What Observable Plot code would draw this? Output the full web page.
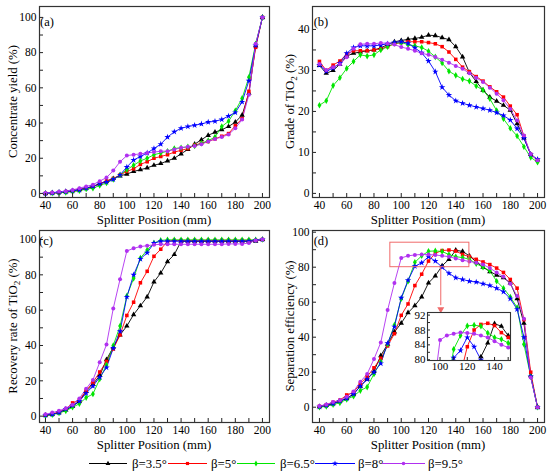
<!DOCTYPE html>
<html><head><meta charset="utf-8">
<script src="https://cdn.jsdelivr.net/npm/d3@7"></script>
<script src="https://cdn.jsdelivr.net/npm/@observablehq/plot@0.6"></script>
<style>
html,body{margin:0;padding:0;background:#fff;}
#root{position:relative;width:550px;height:476px;overflow:hidden;font-family:"Liberation Serif","Times New Roman",serif;}
#root > div{position:absolute;}
#root svg, #root svg text, #root svg g {font-family:"Liberation Serif","Times New Roman",serif !important;}
</style></head><body><div id="root"></div>
<script>
// ---------- data ----------
const xPos = [40,45,50,55,60,65,70,75,80,85,90,95,100,105,110,115,120,125,130,135,140,145,150,155,160,165,170,175,180,185,190,195,200];
const seriesNames = ["β=3.5°","β=5°","β=6.5°","β=8°","β=9.5°"];
const seriesColors = ["#000000","#ff0000","#00e600","#0000ff","#b030f0"];
const seriesSymbols = ["triangle","square","diamond","star","circle"];
const xTicks = [40,60,80,100,120,140,160,180,200];
const xMinorTicks = [50,70,90,110,130,150,170,190];

// (a) Concentrate yield (%)
const yield35 = [0,0.3,0.6,1,1.5,2.2,3,4,5.5,7,8.5,10,11,12.5,13.5,14.5,16,17,18.5,20,22.5,25,28,30.5,33,34.8,36.2,38,40.5,44.5,57,84,100];
const yield5  = [0,0.3,0.6,1,1.5,2.2,3,4,5.5,7,8.5,10.5,12.5,14,16.5,18,20,21,22,23.5,24.5,25.5,27.5,28.5,29.5,31,32.5,34,38.5,42.5,58,83,100];
const yield65 = [0,0.2,0.4,0.6,1,1.5,2.5,3,4.5,6,8,10.5,13.5,16,18.5,20,22,23,24,25.5,26,26.5,27,28.5,30,32,38,41,47,54,66,85,100];
const yield8  = [0,0.3,0.6,1,1.5,2,3,4,5.5,6.5,8,10.5,15,19,21,23,25.5,28,32,35,37,38,38.7,39.5,40.5,41,42,44,46,52,64,84,100];
const yield95 = [0.2,0.5,0.9,1.3,2,3,4,5,7,9,13,18,21.5,22,22.5,23,23.5,24,24,25,26,26.5,27,28,29.5,31,32,33.5,37,42,56,85,100];

// (b) Grade of TiO2 (%)
const grade35 = [31.2,29.3,30,31.5,33.5,34.2,34.5,34.8,35,35.5,36.3,37,37.3,37.6,37.8,38.1,38.6,38.5,38,37.5,35.8,33.3,29.5,27.3,25.2,23.5,22.5,21.5,20.3,17,13.5,9.5,8.2];
const grade5  = [32.2,30,31.3,32.3,34,34.8,34.8,34.8,35,35.3,35.8,36.5,36.8,37,37,37,36.8,36.5,35.8,34.5,32.7,30.8,29.7,28.5,27.4,26,24.8,23.5,21.3,19.2,14,9.5,8.1];
const grade65 = [21.5,22.6,26.3,28.2,30.5,32.2,33.8,33.5,33.8,35,35.8,36.6,36.8,36.3,36,35.6,34.7,33.3,31.8,29.8,28.8,27.9,27.4,26.2,25.2,23.1,20.2,18.2,15.9,14,11.4,8.8,7.6];
const grade8  = [31.3,29.8,30.6,31.8,34.2,35.6,36,36,36,36.2,36.5,36.8,37,36.6,35.5,34.3,32.3,29.7,25.9,24,22.6,22,21.5,21.1,20.7,20.3,19.7,19,17.9,15.8,13.5,9.5,8.3];
const grade95 = [31.6,30.1,30.8,31.5,33.2,35.3,36.4,36.5,36.5,36.7,36.6,36.3,35.7,35.3,34.8,34.2,33.8,33.3,32.6,31.9,31.1,30.4,29.3,28.2,27.2,25.8,24.3,22.7,20.6,17.8,14.1,9.6,8.1];

// (c) Recovery rate of TiO2 (%)
const recovery35 = [0.5,1,2,3.5,5.5,8.5,14,18,23,32,39,46,51,57.5,62.5,67.5,76,81,87.5,91.5,99,99,99,99,99,99,99,99,99,99,99,99,100];
const recovery5  = [0.5,1.2,2.5,4,7.5,9,14.5,19,25,31,38,46,57,64.5,75.5,82,90.5,94.5,99,99.5,99.5,99.5,99.5,99.5,99.5,99.5,99.5,99.5,99.5,99.5,99.5,99.5,100];
const recovery65 = [0.3,0.8,1.8,3,5,7,10.5,12.5,21,29,40,51,68,78,89.5,94,98,99.5,99.8,99.8,99.8,99.8,99.8,99.8,99.8,99.8,99.8,99.8,99.8,99.8,99.8,99.8,100];
const recovery8  = [0.5,1,2,4,6,8.5,13,17,22,27.5,38.5,48,67.5,80,89,92.5,98,99,99,99,99,99,99,99,99,99,99,99,99,99,99,99.5,100];
const recovery95 = [1,2,3,4.5,6.5,10,15.5,20.5,30.5,40.5,61,77.5,93.5,95,96,96.5,97,97.3,97.3,97.3,97.3,97.3,97.3,97.3,97.3,97.3,97.3,97.5,97.5,97.5,98,99.5,100];

// (d) Separation efficiency (%)
const efficiency35 = [0.3,1,2,3.5,5,7.5,12,16,20.5,29.5,36,43,48,54,58,63,71,75,80.8,84.5,89.7,89,86.5,83,80,77.5,75.5,74,71,62,48,18,0];
const efficiency5  = [0.5,1.3,2.8,4,7,8.5,13.5,17.5,22.5,28,35,42,52.5,59,69.5,76,83.5,88,89.5,89.8,89.2,87.3,86,84.5,83,81.5,79.5,77,73,68,50,20,0];
const efficiency65 = [0,0.5,1.5,2.5,4.5,6.3,9.5,11.5,19,26,36,47,62,72,82.8,86.5,89.1,89.3,89,87.2,86,85.5,84.5,82,80,78,72,68,63,57,36,17.5,0];
const efficiency8  = [0.3,1,2,3.5,5,7.5,12,16,20,25,36.5,46,62.5,72.5,80.5,82.5,86,83.5,80,76.5,74,73,72,71.5,70.5,69.5,68,66,62,56,40,17.5,0];
const efficiency95 = [0.7,1.5,3,4,6,9,14.5,19,27.5,37,55.5,71,85.3,86.5,87,87.3,87.2,87,86.5,86,85,84,83.3,82.5,81.5,79.5,77,74.5,70.5,63.5,50.5,17,0];

// inset / zoom annotation
const zoomBoxX = [92, 150];
const zoomBoxY = [80, 94];
const arrowX = [129];
const arrowY = [80, 56];
const insetXTicks = [100,120,140];
const insetXMinor = [110,130,150];
const insetYTicks = [80,84,88,92];
const insetYMinor = [82,86,90];

// ---------- drawing ----------
const FONT = '"Liberation Serif","Times New Roman",serif';
const root = document.getElementById("root");

function makeRows(seriesValues) {
  const rows = [];
  seriesValues.forEach((vals, i) => vals.forEach((v, j) => rows.push({x: xPos[j], v, s: seriesNames[i]})));
  return rows;
}

function serifize(svg) {
  const s = d3.select(svg);
  s.attr("font-family", FONT).style("font-family", FONT);
  s.selectAll("g").attr("font-family", FONT);
  s.selectAll("text").attr("font-family", FONT).style("font-family", FONT).attr("font-weight", "normal");
}

function place(node, left, top) {
  serifize(node);
  const d = document.createElement("div");
  d.style.left = left + "px"; d.style.top = top + "px";
  d.appendChild(node);
  root.appendChild(d);
}

function panel(cfg) {
  const {values, xDomain, yDomain, yTicks, yMinor, ml, mr, mt, mb, w, h, tag, tagX, tagY, yTitle, yTitleX, extra = [], after = []} = cfg;
  const rows = makeRows(values);
  const fw = w - ml - mr, fh = h - mt - mb;
  const svg = Plot.plot({
    width: w, height: h, marginLeft: ml, marginRight: mr, marginTop: mt, marginBottom: mb,
    style: {fontSize: "11px", color: "#000", background: "none", overflow: "visible"},
    x: {domain: xDomain},
    y: {domain: yDomain},
    color: {domain: seriesNames, range: seriesColors},
    symbol: {domain: seriesNames, range: seriesSymbols},
    marks: [
      ...extra,
      Plot.line(rows, {x: "x", y: "v", z: "s", stroke: "s", strokeWidth: 0.9}),
      Plot.dot(rows, {x: "x", y: "v", symbol: "s", fill: "s", r: 2.0}),
      Plot.tickX(xTicks.concat(xMinorTicks), {x: d => d, insetTop: fh - 4, stroke: "#222"}),
      Plot.tickY(yTicks.concat(yMinor), {y: d => d, insetRight: fw - 4, stroke: "#222"}),
      Plot.axisX({ticks: xTicks, tickSize: 0, tickPadding: 3, label: null, fontSize: 11.5}),
      Plot.axisY({ticks: yTicks, tickSize: 0, tickPadding: 3, label: null, fontSize: 11.5}),
      Plot.frame({stroke: "#333", strokeWidth: 1.2}),
      ...after
    ]
  });
  const s = d3.select(svg);
  s.append("text").attr("x", ml + fw / 2).attr("y", h - 6).attr("text-anchor", "middle")
    .attr("font-size", 12.8).attr("fill", "#000").text("Splitter Position (mm)");
  const yt = s.append("text")
    .attr("transform", `translate(${yTitleX},${mt + fh / 2}) rotate(-90)`)
    .attr("text-anchor", "middle").attr("dy", "0.35em").attr("font-size", 12.8).attr("fill", "#000");
  yTitle.forEach(p => {
    const t = yt.append("tspan").text(p.t);
    if (p.sub) t.attr("font-size", 9).attr("dy", 3);
    if (p.after) t.attr("dy", -3);
  });
  s.append("text").attr("x", tagX).attr("y", tagY).attr("font-size", 12.5).attr("fill", "#000").text(tag);
  return svg;
}

place(panel({
  values: [yield35, yield5, yield65, yield8, yield95],
  xDomain: [35.6, 205.2], yDomain: [-2.3, 106.2],
  yTicks: [0,20,40,60,80,100], yMinor: [10,30,50,70,90],
  ml: 39, mr: 6, mt: 6, mb: 33, w: 275, h: 230,
  tag: "(a)", tagX: 47, tagY: 26,
  yTitle: [{t: "Concentrate yield (%)"}], yTitleX: 13
}), 0, 0);

place(panel({
  values: [grade35, grade5, grade65, grade8, grade95],
  xDomain: [34.9, 205.1], yDomain: [-1, 45.6],
  yTicks: [0,10,20,30,40], yMinor: [5,15,25,35],
  ml: 37, mr: 6, mt: 6, mb: 33, w: 275, h: 230,
  tag: "(b)", tagX: 46, tagY: 26,
  yTitle: [{t: "Grade of TiO"}, {t: "2", sub: true}, {t: " (%)", after: true}], yTitleX: 15
}), 275, 0);

place(panel({
  values: [recovery35, recovery5, recovery65, recovery8, recovery95],
  xDomain: [35.6, 205.2], yDomain: [-3.6, 105.1],
  yTicks: [0,20,40,60,80,100], yMinor: [10,30,50,70,90],
  ml: 39, mr: 6, mt: 5, mb: 33, w: 275, h: 230,
  tag: "(c)", tagX: 46, tagY: 20,
  yTitle: [{t: "Recovery rate of TiO"}, {t: "2", sub: true}, {t: " (%)", after: true}], yTitleX: 13
}), 0, 225);

const zoomColor = "#f06a6a";
place(panel({
  values: [efficiency35, efficiency5, efficiency65, efficiency8, efficiency95],
  xDomain: [34.9, 205.1], yDomain: [-8.74, 100.97],
  yTicks: [0,20,40,60,80,100], yMinor: [10,30,50,70,90],
  ml: 37, mr: 6, mt: 5, mb: 33, w: 275, h: 230,
  tag: "(d)", tagX: 46, tagY: 20,
  yTitle: [{t: "Separation efficiency (%)"}], yTitleX: 15,
  after: [
    Plot.rect([0], {x1: zoomBoxX[0], x2: zoomBoxX[1], y1: zoomBoxY[0], y2: zoomBoxY[1], fill: "none", stroke: zoomColor, strokeWidth: 1}),
    Plot.ruleX(arrowX, {x: d => d, y1: arrowY[0], y2: arrowY[1] + 2, stroke: zoomColor, strokeWidth: 1}),
    Plot.dot(arrowX, {x: d => d, y: arrowY[1], symbol: "triangle", rotate: 180, fill: zoomColor, r: 2.6})
  ]
}), 275, 225);

// inset
(function () {
  const rows = makeRows([efficiency35, efficiency5, efficiency65, efficiency8, efficiency95]);
  const w = 116, h = 70, ml = 27, mr = 6, mt = 8, mb = 14;
  const fw = w - ml - mr, fh = h - mt - mb;
  const svg = Plot.plot({
    width: w, height: h, marginLeft: ml, marginRight: mr, marginTop: mt, marginBottom: mb,
    style: {fontSize: "10.5px", color: "#000", background: "none", overflow: "visible"},
    x: {domain: [90.8, 151.7]},
    y: {domain: [79.8, 92.7]},
    color: {domain: seriesNames, range: seriesColors},
    symbol: {domain: seriesNames, range: seriesSymbols},
    marks: [
      Plot.frame({fill: "white", stroke: "none"}),
      Plot.line(rows, {x: "x", y: "v", z: "s", stroke: "s", strokeWidth: 0.9, clip: true}),
      Plot.dot(rows, {x: "x", y: "v", symbol: "s", fill: "s", r: 2.0, clip: true}),
      Plot.tickX(insetXTicks.concat(insetXMinor), {x: d => d, insetTop: fh - 3, stroke: "#222"}),
      Plot.tickY(insetYTicks.concat(insetYMinor), {y: d => d, insetRight: fw - 3, stroke: "#222"}),
      Plot.axisX({ticks: insetXTicks, tickSize: 0, tickPadding: 2, label: null, fontSize: 11}),
      Plot.axisY({ticks: insetYTicks, tickSize: 0, tickPadding: 2, label: null, fontSize: 11}),
      Plot.frame({stroke: "#333", strokeWidth: 1.1})
    ]
  });
  place(svg, 400, 304);
})();

// legend
(function () {
  const items = [
    {x1: 89, x2: 127, tx: 132},
    {x1: 168, x2: 207, tx: 211},
    {x1: 237, x2: 275, tx: 280},
    {x1: 315, x2: 355, tx: 358},
    {x1: 382, x2: 425, tx: 428}
  ];
  const symbolTypes = [d3.symbolTriangle, d3.symbolSquare, d3.symbolDiamond, d3.symbolStar, d3.symbolCircle];
  const svg = d3.create("svg").attr("width", 550).attr("height", 25);
  items.forEach((it, i) => {
    const g = svg.append("g");
    g.append("line").attr("x1", it.x1).attr("x2", it.x2).attr("y1", 12.5).attr("y2", 12.5)
      .attr("stroke", seriesColors[i]).attr("stroke-width", 1);
    g.append("path").attr("d", d3.symbol(symbolTypes[i], 10)())
      .attr("transform", `translate(${(it.x1 + it.x2) / 2},12.5)`).attr("fill", seriesColors[i]);
    g.append("text").attr("x", it.tx).attr("y", 17).attr("font-size", 12.8).attr("fill", "#000").text(seriesNames[i]);
  });
  place(svg.node(), 0, 451);
})();
</script></body></html>
